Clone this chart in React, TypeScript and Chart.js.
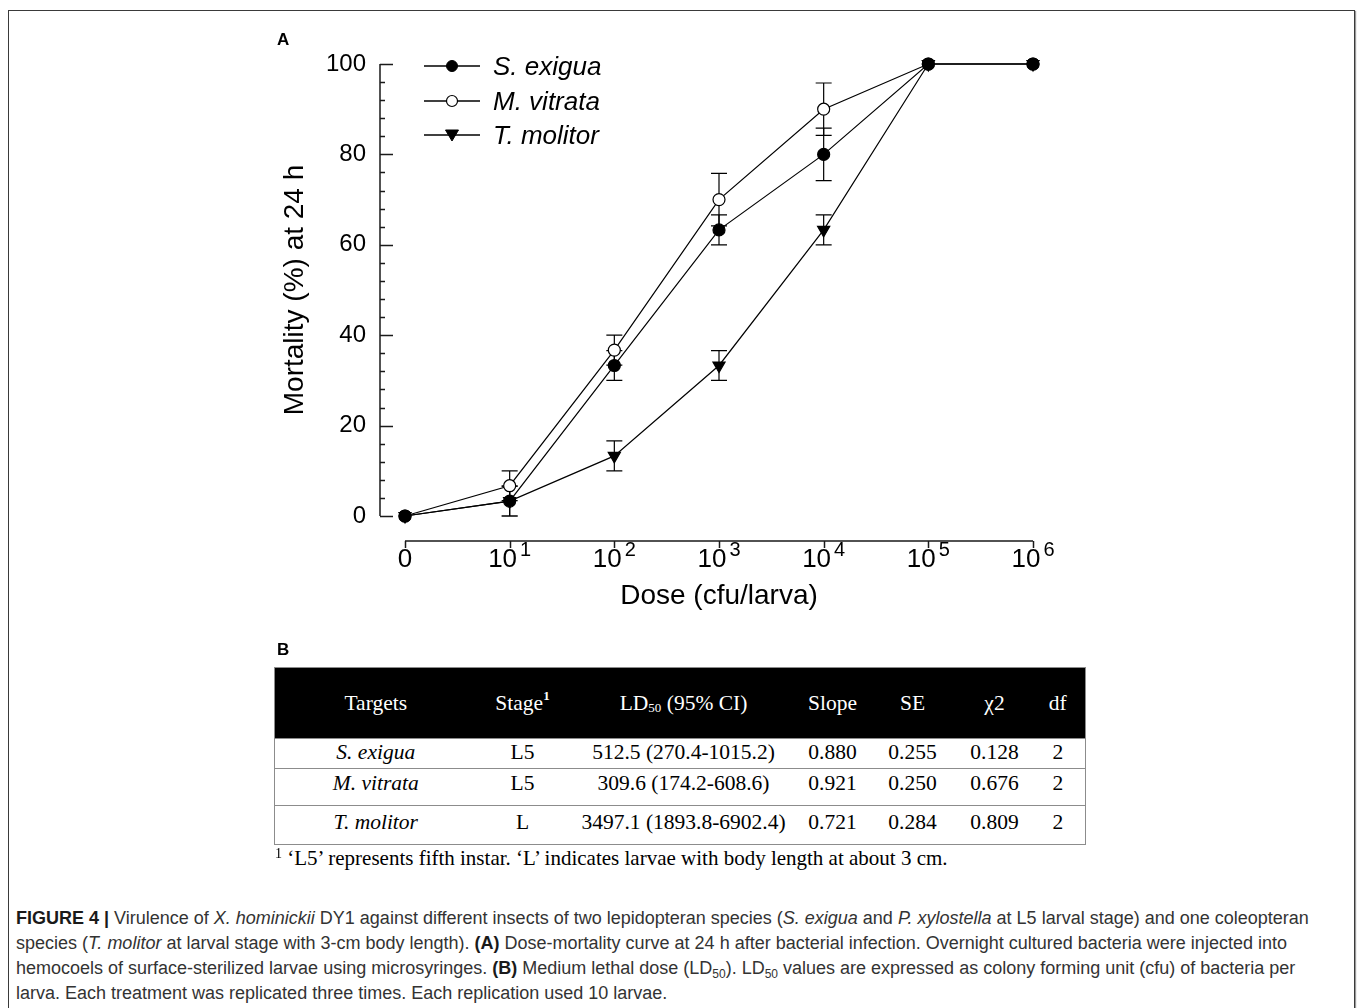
import React, { useEffect, useRef } from 'react';
import { Chart, registerables } from 'chart.js';

Chart.register(...registerables);

// ---------- data ----------
const doseLabels = ['0', '10^1', '10^2', '10^3', '10^4', '10^5', '10^6'];
const tickBase = ['0', '10', '10', '10', '10', '10', '10'];
const tickExp = ['', '1', '2', '3', '4', '5', '6'];

const seriesNames = ['S. exigua', 'M. vitrata', 'T. molitor'];
const exiguaValues = [0, 3.3, 33.3, 63.3, 80, 100, 100];
const exiguaErr = [0, 3.3, 3.3, 3.3, 5.8, 0, 0];
const vitrataValues = [0, 6.7, 36.7, 70, 90, 100, 100];
const vitrataErr = [0, 3.3, 3.3, 5.8, 5.8, 0, 0];
const molitorValues = [0, 3.3, 13.3, 33.3, 63.3, 100, 100];
const molitorErr = [0, 3.3, 3.3, 3.3, 3.3, 0, 0];

const yMin = 0;
const yMax = 100;
const yMajorStep = 20;
const yMinorStep = 4;

const tableTargets = ['S. exigua', 'M. vitrata', 'T. molitor'];
const tableStage = ['L5', 'L5', 'L'];
const tableLD50 = ['512.5 (270.4-1015.2)', '309.6 (174.2-608.6)', '3497.1 (1893.8-6902.4)'];
const tableSlope = ['0.880', '0.921', '0.721'];
const tableSE = ['0.255', '0.250', '0.284'];
const tableChi2 = ['0.128', '0.676', '0.809'];
const tableDf = ['2', '2', '2'];

// ---------- styles ----------
const SANS = '"Liberation Sans", Arial, Helvetica, sans-serif';
const SERIF = '"Liberation Serif", "Times New Roman", Times, serif';
const AXIS_COLOR = '#1a1a1a';
const Y_AXIS_GAP = 25; // y axis line sits left of first dose
const X_AXIS_GAP = 25; // x axis line sits below y = 0

Chart.defaults.font.family = SANS;
Chart.defaults.color = '#000';

const figurePlugin = {
  id: 'figureAxes',
  beforeDatasetsDraw(chart: any) {
    const { ctx } = chart;
    const x = chart.scales.x;
    const y = chart.scales.y;
    ctx.save();
    ctx.strokeStyle = '#000';
    ctx.lineWidth = 1.2;
    chart.data.datasets.forEach((ds: any) => {
      const errs: number[] = ds.errors || [];
      ds.data.forEach((v: number, i: number) => {
        const e = errs[i];
        if (!e) return;
        const px = x.getPixelForValue(i);
        const top = y.getPixelForValue(v + e);
        const bot = y.getPixelForValue(v - e);
        ctx.beginPath();
        ctx.moveTo(px, top);
        ctx.lineTo(px, bot);
        ctx.moveTo(px - 8, top);
        ctx.lineTo(px + 8, top);
        ctx.moveTo(px - 8, bot);
        ctx.lineTo(px + 8, bot);
        ctx.stroke();
      });
    });
    ctx.restore();
  },
  afterDraw(chart: any) {
    const { ctx } = chart;
    const x = chart.scales.x;
    const y = chart.scales.y;
    const y0 = y.getPixelForValue(yMin);
    const y1 = y.getPixelForValue(yMax);
    const axX = x.getPixelForValue(0) - Y_AXIS_GAP;
    const axY = y0 + X_AXIS_GAP;
    ctx.save();
    ctx.strokeStyle = AXIS_COLOR;
    ctx.lineWidth = 1.5;
    // y axis line + ticks (inward)
    ctx.beginPath();
    ctx.moveTo(axX, y0);
    ctx.lineTo(axX, y1);
    for (let v = yMin; v <= yMax + 0.001; v += yMinorStep) {
      const py = Math.round(y.getPixelForValue(v)) + 0.5;
      const len = Math.abs(v % yMajorStep) < 0.001 ? 13 : 5;
      ctx.moveTo(axX, py);
      ctx.lineTo(axX + len, py);
    }
    ctx.stroke();
    // x axis line + ticks (outward)
    const xFirst = x.getPixelForValue(0);
    const xLast = x.getPixelForValue(doseLabels.length - 1);
    ctx.beginPath();
    ctx.moveTo(xFirst, axY);
    ctx.lineTo(xLast, axY);
    doseLabels.forEach((_, i) => {
      const px = Math.round(x.getPixelForValue(i)) + 0.5;
      ctx.moveTo(px, axY);
      ctx.lineTo(px, axY + 7);
    });
    ctx.stroke();
    // x tick labels with superscript exponents
    ctx.fillStyle = '#000';
    ctx.textAlign = 'left';
    ctx.textBaseline = 'middle';
    const baseFont = '26px ' + SANS;
    const expFont = '20px ' + SANS;
    doseLabels.forEach((_, i) => {
      const px = x.getPixelForValue(i);
      ctx.font = baseFont;
      const wb = ctx.measureText(tickBase[i]).width;
      ctx.font = expFont;
      const we = tickExp[i] ? ctx.measureText(tickExp[i]).width + 3 : 0;
      const start = px - (wb + we) / 2;
      ctx.font = baseFont;
      ctx.fillText(tickBase[i], start, axY + 19);
      if (tickExp[i]) {
        ctx.font = expFont;
        ctx.fillText(tickExp[i], start + wb + 3, axY + 9);
      }
    });
    ctx.restore();
  },
};

function LegendMarker({ kind }: { kind: string }) {
  return (
    <svg width={56} height={20} style={{ display: 'block' }}>
      <line x1={0} y1={10} x2={56} y2={10} stroke="#000" strokeWidth={1.3} />
      {kind === 'filled' && <circle cx={28} cy={10} r={5.5} fill="#000" stroke="#000" />}
      {kind === 'open' && <circle cx={28} cy={10} r={5.5} fill="#fff" stroke="#000" strokeWidth={1.2} />}
      {kind === 'tri' && <polygon points="21.5,5 34.5,5 28,16" fill="#000" stroke="#000" />}
    </svg>
  );
}

const legendKinds = ['filled', 'open', 'tri'];
const legendRowCenters = [66, 101, 135];

export default function App() {
  const canvasRef = useRef<HTMLCanvasElement | null>(null);

  useEffect(() => {
    if (!canvasRef.current) return;
    const common = {
      borderColor: '#000',
      borderWidth: 1.2,
      pointBorderColor: '#000',
      pointBorderWidth: 1.2,
      clip: false as any,
      tension: 0,
      fill: false,
    };
    const chart = new Chart(canvasRef.current, {
      type: 'line',
      data: {
        labels: doseLabels,
        datasets: [
          {
            ...common,
            label: seriesNames[0],
            data: exiguaValues,
            errors: exiguaErr,
            pointStyle: 'circle',
            pointRadius: 6,
            pointBackgroundColor: '#000',
            order: 0,
          } as any,
          {
            ...common,
            label: seriesNames[1],
            data: vitrataValues,
            errors: vitrataErr,
            pointStyle: 'circle',
            pointRadius: 6,
            pointBackgroundColor: '#fff',
            order: 2,
          } as any,
          {
            ...common,
            label: seriesNames[2],
            data: molitorValues,
            errors: molitorErr,
            pointStyle: 'triangle',
            rotation: 180,
            pointRadius: 7,
            pointBackgroundColor: '#000',
            order: 1,
          } as any,
        ],
      },
      options: {
        responsive: true,
        maintainAspectRatio: false,
        animation: false,
        events: [],
        layout: { padding: { left: 275, right: 325, top: 64, bottom: 14 } },
        plugins: { legend: { display: false }, tooltip: { enabled: false } },
        scales: {
          x: {
            type: 'category',
            grid: { display: false, drawTicks: false },
            border: { display: false },
            ticks: { display: false },
            title: {
              display: true,
              text: 'Dose (cfu/larva)',
              color: '#000',
              font: { size: 28, family: SANS },
              padding: { top: 0, bottom: 3 },
            },
            afterFit: (s: any) => {
              s.height = 100;
            },
          },
          y: {
            min: yMin,
            max: yMax,
            grid: { display: false, drawTicks: false },
            border: { display: false },
            ticks: { stepSize: yMajorStep, padding: 39, color: '#000', font: { size: 24, family: SANS } },
            title: {
              display: true,
              text: 'Mortality (%) at 24 h',
              color: '#000',
              font: { size: 28, family: SANS },
              padding: { top: 3, bottom: 0 },
            },
            afterFit: (s: any) => {
              s.width = 130;
            },
          },
        },
      } as any,
      plugins: [figurePlugin],
    });
    return () => chart.destroy();
  }, []);

  const cellStyle: React.CSSProperties = {
    textAlign: 'center',
    padding: 0,
    whiteSpace: 'nowrap',
  };
  const rowHeights = [30, 37, 39];
  const rowPadTop = [0, 1, 3];
  const colWidths = [202, 92, 230, 68, 92, 72, 55];
  const capSub: React.CSSProperties = { fontSize: 12, lineHeight: 0, verticalAlign: 'baseline', position: 'relative', top: 4 };

  return (
    <div
      style={{
        position: 'absolute',
        left: 0,
        top: 0,
        width: 1358,
        height: 1008,
        overflow: 'hidden',
        background: '#fff',
      }}
    >
      <style>{'html,body{overflow:hidden;}'}</style>
      {/* figure frame */}
      <div
        style={{
          position: 'absolute',
          left: 8,
          top: 10,
          width: 1345,
          height: 1100,
          border: '1px solid #3a3a3a',
          boxShadow: '1px 1px 1px #999',
        }}
      />
      {/* chart canvas */}
      <div style={{ position: 'absolute', left: 0, top: 0, width: 1358, height: 630 }}>
        <canvas ref={canvasRef} />
      </div>
      {/* panel labels */}
      <div style={{ position: 'absolute', left: 277, top: 30, font: `bold 17px ${SANS}`, lineHeight: '20px' }}>A</div>
      <div style={{ position: 'absolute', left: 277, top: 640, font: `bold 17px ${SANS}`, lineHeight: '20px' }}>B</div>
      {/* legend */}
      {seriesNames.map((name, i) => (
        <div
          key={name}
          style={{
            position: 'absolute',
            left: 424,
            top: legendRowCenters[i] - 15,
            height: 30,
            display: 'flex',
            alignItems: 'center',
          }}
        >
          <LegendMarker kind={legendKinds[i]} />
          <span style={{ marginLeft: 13, font: `italic 26px ${SANS}`, lineHeight: '30px', color: '#000' }}>{name}</span>
        </div>
      ))}
      {/* table B */}
      <table
        style={{
          position: 'absolute',
          left: 274,
          top: 667,
          width: 811,
          borderCollapse: 'collapse',
          tableLayout: 'fixed',
          border: '1px solid #8c8c8c',
          fontFamily: SERIF,
          fontSize: 21.5,
          color: '#000',
        }}
      >
        <colgroup>
          {colWidths.map((w, i) => (
            <col key={i} style={{ width: w }} />
          ))}
        </colgroup>
        <thead>
          <tr style={{ height: 71, background: '#000', color: '#fff' }}>
            <th style={{ ...cellStyle, fontWeight: 'normal' }}>Targets</th>
            <th style={{ ...cellStyle, fontWeight: 'normal' }}>
              Stage<sup style={{ fontSize: 13, fontWeight: 'bold', verticalAlign: 'top', position: 'relative', top: -3 }}>1</sup>
            </th>
            <th style={{ ...cellStyle, fontWeight: 'normal' }}>
              LD<sub style={{ fontSize: 13, verticalAlign: 'baseline', position: 'relative', top: 2 }}>50</sub> (95% CI)
            </th>
            <th style={{ ...cellStyle, fontWeight: 'normal' }}>Slope</th>
            <th style={{ ...cellStyle, fontWeight: 'normal' }}>SE</th>
            <th style={{ ...cellStyle, fontWeight: 'normal' }}>χ2</th>
            <th style={{ ...cellStyle, fontWeight: 'normal' }}>df</th>
          </tr>
        </thead>
        <tbody>
          {tableTargets.map((t, r) => {
            const td: React.CSSProperties = {
              ...cellStyle,
              height: rowHeights[r],
              verticalAlign: 'top',
              paddingTop: rowPadTop[r],
              lineHeight: '26px',
              borderTop: '1px solid #8c8c8c',
              boxSizing: 'border-box',
            };
            return (
              <tr key={t}>
                <td style={{ ...td, fontStyle: 'italic' }}>{t}</td>
                <td style={td}>{tableStage[r]}</td>
                <td style={td}>{tableLD50[r]}</td>
                <td style={td}>{tableSlope[r]}</td>
                <td style={td}>{tableSE[r]}</td>
                <td style={td}>{tableChi2[r]}</td>
                <td style={td}>{tableDf[r]}</td>
              </tr>
            );
          })}
        </tbody>
      </table>
      {/* footnote */}
      <div
        style={{
          position: 'absolute',
          left: 275,
          top: 846,
          font: `21px ${SERIF}`,
          lineHeight: '24px',
          whiteSpace: 'nowrap',
          color: '#000',
        }}
      >
        <span style={{ fontSize: 14, lineHeight: 0, verticalAlign: 'baseline', position: 'relative', top: -7 }}>1</span> ‘L5’
        represents fifth instar. ‘L’ indicates larvae with body length at about 3 cm.
      </div>
      {/* caption */}
      <div
        style={{
          position: 'absolute',
          left: 16,
          top: 906,
          width: 1330,
          font: `18px ${SANS}`,
          lineHeight: '25px',
          color: '#333',
          whiteSpace: 'nowrap',
        }}
      >
        <b style={{ color: '#1a1a1a' }}>FIGURE 4 |</b> Virulence of <i>X. hominickii</i> DY1 against different insects of two
        lepidopteran species (<i>S. exigua</i> and <i>P. xylostella</i> at L5 larval stage) and one coleopteran
        <br />
        species (<i>T. molitor</i> at larval stage with 3-cm body length). <b style={{ color: '#1a1a1a' }}>(A)</b> Dose-mortality
        curve at 24 h after bacterial infection. Overnight cultured bacteria were injected into
        <br />
        hemocoels of surface-sterilized larvae using microsyringes. <b style={{ color: '#1a1a1a' }}>(B)</b> Medium lethal dose
        (LD<sub style={capSub}>50</sub>). LD<sub style={capSub}>50</sub> values are expressed as colony forming unit (cfu) of
        bacteria per
        <br />
        larva. Each treatment was replicated three times. Each replication used 10 larvae.
      </div>
    </div>
  );
}
